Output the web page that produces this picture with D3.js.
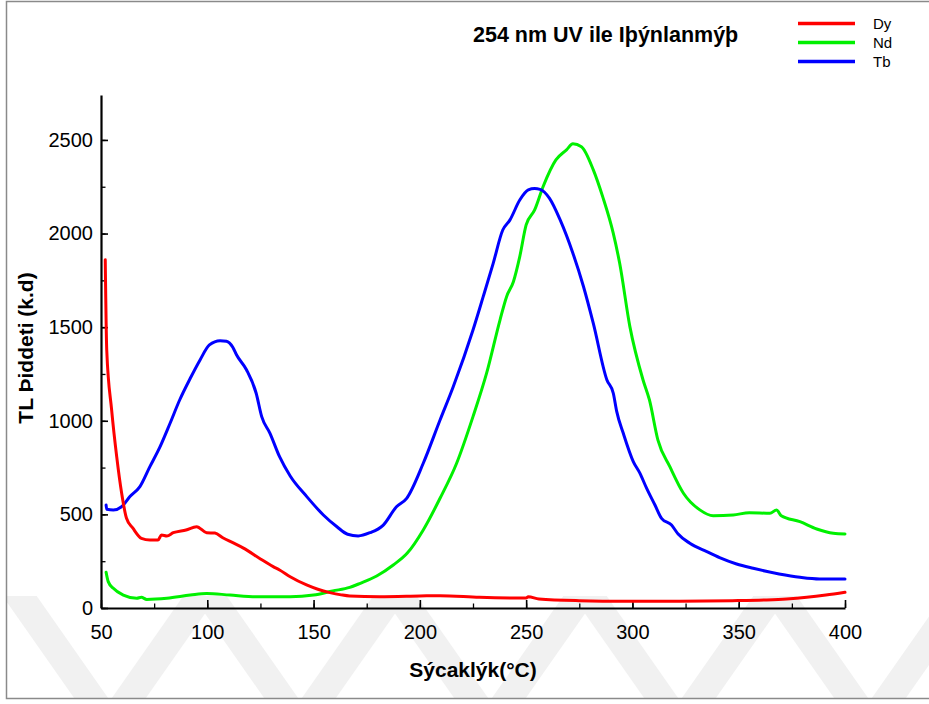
<!DOCTYPE html>
<html>
<head>
<meta charset="utf-8">
<script src="https://cdn.jsdelivr.net/npm/d3@7"></script>
<style>
  html, body { margin: 0; padding: 0; background: #fff; }
  svg { display: block; font-family: "Liberation Sans", Arial, sans-serif; }
</style>
</head>
<body>
<svg id="chart" width="929" height="704"></svg>
<script>
// Glow curves: temperature (°C) and TL intensity (a.u.) for each dopant
const dyTemp = [52, 52.7, 55, 57.4, 59.7, 62, 65, 69, 73, 76.8, 78.5, 81, 84, 90, 95, 99.7, 103.6, 107.5, 112, 117, 125, 131, 134, 139, 146.7, 152, 157.7, 163, 167, 181, 200, 209.5, 228, 250, 251, 256, 275, 297, 316, 347, 363, 372.5, 382, 391, 400];
const dyTL   = [1860, 1378, 1058, 807, 614, 479, 426, 372, 363, 363, 390, 385, 402, 417, 434, 402, 400, 374, 349, 320, 262, 221, 203, 167, 123, 100, 82, 70, 64, 60, 64, 66, 57, 53, 60, 48, 39, 36, 36, 39, 43, 48, 57, 69, 84];

const ndTemp = [52.4, 53.4, 55.8, 60.5, 66.8, 69, 71.5, 81, 92, 99.7, 110.7, 123, 139, 150, 159, 167, 172, 179.7, 187.5, 194, 201.6, 209.5, 217.3, 225, 231.4, 237.7, 240.8, 244, 247, 250, 254, 258, 264, 269, 272, 276, 281.6, 286, 291, 294, 298.8, 305, 308, 312, 317.6, 324, 331.7, 338, 347.4, 355, 364.7, 367.8, 370, 378.8, 386.7, 394.5, 400];
const ndTL   = [191, 141, 105, 69, 52, 57, 46, 52, 69, 78, 69, 60, 60, 69, 91, 110, 132, 171, 230, 292, 417, 586, 773, 1022, 1254, 1538, 1663, 1743, 1877, 2046, 2126, 2251, 2393, 2447, 2479, 2464, 2340, 2197, 2001, 1841, 1503, 1218, 1111, 897, 755, 613, 524, 493, 497, 509, 506, 524, 493, 461, 422, 399, 395];

const tbTemp = [52.4, 52.7, 55.8, 59.7, 63.6, 68.3, 73, 77.8, 82.5, 87, 92, 96.6, 101, 106, 109, 112, 113.8, 118.5, 123, 125.6, 129.5, 134, 139, 146.8, 154.6, 161, 166, 171, 176.5, 182.8, 189, 193.8, 201.6, 209.5, 215.7, 225, 229.8, 234.5, 239, 242.4, 247, 251, 254, 256.5, 261, 266, 272, 277, 281.6, 288, 291, 292.6, 295.7, 300.4, 303.5, 306.7, 310.6, 313.7, 318.4, 321.5, 327, 335, 341, 349, 356.8, 369, 378.8, 388, 400];
const tbTL   = [550, 527, 523, 541, 595, 648, 755, 862, 987, 1111, 1227, 1325, 1405, 1428, 1425, 1393, 1351, 1271, 1147, 1022, 933, 808, 705, 595, 497, 434, 394, 385, 402, 443, 541, 586, 773, 1004, 1182, 1485, 1663, 1841, 2019, 2073, 2179, 2233, 2240, 2236, 2188, 2073, 1895, 1716, 1520, 1218, 1147, 1050, 933, 782, 720, 639, 550, 479, 443, 395, 346, 301, 269, 235, 212, 182, 164, 155, 155];

const seriesNames  = ["Dy", "Nd", "Tb"];
const seriesColors = ["#ff0000", "#00f000", "#0000ff"];

const xMajorTicks = [50, 100, 150, 200, 250, 300, 350, 400];
const yMajorTicks = [0, 500, 1000, 1500, 2000, 2500];

const titleText = "254 nm UV ile Iþýnlanmýþ";
const xTitle = "Sýcaklýk(°C)";
const yTitle = "TL Þiddeti (k.d)";

const svg = d3.select("#chart");
const fontFamily = "'Liberation Sans', Arial, sans-serif";

// faint chevron watermark along the bottom of the page
const defs = svg.append("defs");
defs.append("clipPath").attr("id", "wm-clip")
  .append("rect").attr("x", 7).attr("y", 596).attr("width", 922).attr("height", 102);
const wm = svg.append("g").attr("clip-path", "url(#wm-clip)")
  .attr("fill", "#f1f1f1");
[110, 300, 490, 680, 870].forEach(vx => {
  const vy = 725, h = 160, k = 0.7, w = 34;
  wm.append("path").attr("d",
    `M${vx - w / 2},${vy} L${vx - w / 2 - k * h},${vy - h} L${vx + w / 2 - k * h},${vy - h} L${vx + w / 2},${vy} Z`);
  wm.append("path").attr("d",
    `M${vx - w / 2},${vy} L${vx - w / 2 + k * h},${vy - h} L${vx + w / 2 + k * h},${vy - h} L${vx + w / 2},${vy} Z`);
});

// outer frame
svg.append("rect")
  .attr("x", 6.5).attr("y", 1.5)
  .attr("width", 940).attr("height", 697)
  .attr("fill", "none").attr("stroke", "#8a8a8a").attr("stroke-width", 1.5);

const x = d3.scaleLinear().domain([50, 400]).range([101, 845]);
const y = d3.scaleLinear().domain([0, 2740]).range([608, 95]);

// minor ticks
const xMinor = d3.range(50, 401, 25);
const yMinor = d3.range(0, 2740, 250);

svg.append("g")
  .attr("transform", "translate(0,608)")
  .call(d3.axisBottom(x).tickValues(xMinor).tickSize(-4.5).tickSizeOuter(0).tickFormat(""))
  .call(g => g.select(".domain").remove())
  .call(g => g.selectAll("line").attr("stroke", "#000").attr("stroke-width", 1.3));

svg.append("g")
  .attr("transform", "translate(101,0)")
  .call(d3.axisLeft(y).tickValues(yMinor).tickSize(-4.5).tickSizeOuter(0).tickFormat(""))
  .call(g => g.select(".domain").remove())
  .call(g => g.selectAll("line").attr("stroke", "#000").attr("stroke-width", 1.3));

// major axes
const xAxis = svg.append("g")
  .attr("transform", "translate(0,608)")
  .call(d3.axisBottom(x).tickValues(xMajorTicks).tickFormat(d3.format("d"))
    .tickSize(-8).tickSizeOuter(0).tickPadding(17));
xAxis.select(".domain").attr("stroke", "#000").attr("stroke-width", 2.2);
xAxis.selectAll("line").attr("stroke", "#000").attr("stroke-width", 1.6);
xAxis.selectAll("text").attr("font-size", 20).attr("fill", "#000").style("font-family", fontFamily);

const yAxis = svg.append("g")
  .attr("transform", "translate(101,0)")
  .call(d3.axisLeft(y).tickValues(yMajorTicks).tickFormat(d3.format("d"))
    .tickSize(-7).tickSizeOuter(0).tickPadding(8));
yAxis.select(".domain").attr("stroke", "#000").attr("stroke-width", 2.2);
yAxis.selectAll("line").attr("stroke", "#000").attr("stroke-width", 1.6);
yAxis.selectAll("text").attr("font-size", 20).attr("fill", "#000").style("font-family", fontFamily);

// glow curves
const series = [
  { temp: dyTemp, tl: dyTL },
  { temp: ndTemp, tl: ndTL },
  { temp: tbTemp, tl: tbTL }
];
const line = d3.line()
  .x(d => x(d[0]))
  .y(d => y(d[1]))
  .curve(d3.curveMonotoneX);

// draw Nd first, then Tb, then Dy on top
[1, 2, 0].forEach(i => {
  const pts = series[i].temp.map((t, k) => [t, series[i].tl[k]]);
  svg.append("path")
    .datum(pts)
    .attr("d", line)
    .attr("fill", "none")
    .attr("stroke", seriesColors[i])
    .attr("stroke-width", 3)
    .attr("stroke-linejoin", "round")
    .attr("stroke-linecap", "round");
});

// title
svg.append("text")
  .attr("x", 473).attr("y", 42)
  .attr("font-size", 21.5).attr("font-weight", "bold")
  .text(titleText);

// legend
const legend = svg.append("g");
seriesNames.forEach((name, i) => {
  const ly = 23.5 + i * 19;
  legend.append("line")
    .attr("x1", 798).attr("x2", 855)
    .attr("y1", ly).attr("y2", ly)
    .attr("stroke", seriesColors[i]).attr("stroke-width", 3.5);
  legend.append("text")
    .attr("x", 873).attr("y", ly + 5.5)
    .attr("font-size", 15)
    .text(name);
});

// axis titles
svg.append("text")
  .attr("x", 473).attr("y", 677)
  .attr("text-anchor", "middle")
  .attr("font-size", 21).attr("font-weight", "bold")
  .text(xTitle);

svg.append("text")
  .attr("transform", "translate(33,348) rotate(-90)")
  .attr("text-anchor", "middle")
  .attr("font-size", 21).attr("font-weight", "bold")
  .text(yTitle);
</script>
</body>
</html>
